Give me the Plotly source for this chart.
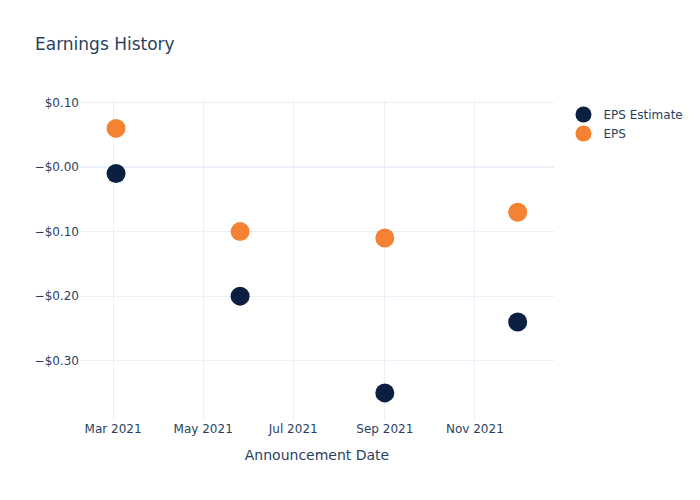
import plotly.graph_objects as go

dates = ["2021-03-03", "2021-05-26", "2021-09-01", "2021-11-30"]
eps_estimate = [-0.01, -0.20, -0.35, -0.24]
eps_actual = [0.06, -0.10, -0.11, -0.07]
y_tickvals = [-0.3, -0.2, -0.1, 0.0, 0.1]
y_ticktext = ["\u2212$0.30", "\u2212$0.20", "\u2212$0.10", "\u2212$0.00", "$0.10"]

fig = go.Figure()
fig.add_trace(go.Scatter(x=dates, y=eps_estimate, mode="markers", name="EPS Estimate",
                         marker=dict(color="#0b1f41", size=19)))
fig.add_trace(go.Scatter(x=dates, y=eps_actual, mode="markers", name="EPS",
                         marker=dict(color="#f58233", size=19)))

fig.update_layout(
    template="plotly_white",
    width=700, height=500,
    font=dict(family="DejaVu Sans"),
    title=dict(text="Earnings History"),
    xaxis=dict(title=dict(text="Announcement Date"),
               range=["2021-02-06 14:00", "2021-12-24 14:00"],
               tickformat="%b %Y", dtick="M2", tick0="2021-03-01"),
    yaxis=dict(tickvals=y_tickvals, ticktext=y_ticktext, range=[-0.392, 0.104]),
)
fig.write_html("out.html")
